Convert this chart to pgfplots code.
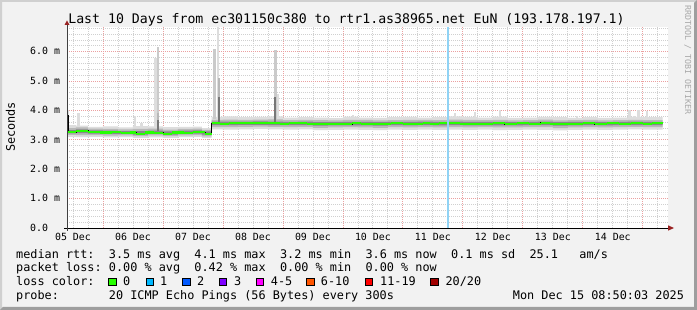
\documentclass[border=0pt]{standalone}
\usepackage{pgfplots}
\pgfplotsset{compat=1.18}
\usepackage{pgfplotstable}
\usepgfplotslibrary{fillbetween}
\usepackage{fontspec}
\setmainfont{DejaVu Sans Mono}
\definecolor{bg}{HTML}{F2F2F2}
\definecolor{shadea}{HTML}{D0D0D0}
\definecolor{shadeb}{HTML}{9E9E9E}
\definecolor{mgrid}{HTML}{EBA0A0}
\definecolor{mingrid}{HTML}{D0D0D0}
\definecolor{arrowc}{HTML}{992222}
\definecolor{smokeA}{HTML}{DDDDDD}
\definecolor{smokeA2}{HTML}{CACACA}
\definecolor{smokeB}{HTML}{B8B8B8}
\definecolor{smokeC}{HTML}{888888}
\definecolor{smokeD}{HTML}{777777}
\definecolor{medgreen}{HTML}{26FF00}
\definecolor{lossbg}{HTML}{90D3F5}
\definecolor{wm}{HTML}{A8A8A8}
\definecolor{lcA}{HTML}{26FF00}
\definecolor{lcB}{HTML}{00B8FF}
\definecolor{lcC}{HTML}{0059FF}
\definecolor{lcD}{HTML}{7E00FF}
\definecolor{lcE}{HTML}{FF00FF}
\definecolor{lcF}{HTML}{FF5500}
\definecolor{lcG}{HTML}{FF0000}
\definecolor{lcH}{HTML}{A10000}
\newcommand\lgfont{\fontsize{11.84}{13}\selectfont}
\newcommand\axfont{\fontsize{9.9}{11}\selectfont}
\newcommand\lgt[3]{\node[anchor=base west, inner sep=0pt, font=\lgfont] at ({16+7.13*#1},#2) {#3};}

\pgfplotstableread{
x l1 l2 l3 h3 h2 h1
0.40 3.10 3.17 3.22 3.33 3.40 3.50
0.55 3.09 3.16 3.23 3.36 3.42 3.48
0.75 3.10 3.16 3.21 3.32 3.38 3.44
1.00 3.08 3.14 3.20 3.31 3.37 3.46
1.25 3.09 3.15 3.20 3.30 3.36 3.42
1.50 3.07 3.13 3.18 3.30 3.37 3.47
1.75 3.08 3.15 3.20 3.31 3.38 3.46
2.00 3.07 3.13 3.18 3.29 3.35 3.43
2.25 3.09 3.15 3.21 3.31 3.37 3.44
2.50 3.10 3.16 3.21 3.32 3.38 3.45
2.65 3.07 3.12 3.18 3.29 3.34 3.40
2.81 3.36 3.43 3.50 3.62 3.68 3.78
3.00 3.35 3.43 3.50 3.62 3.69 3.80
3.25 3.36 3.44 3.51 3.62 3.68 3.77
3.50 3.37 3.45 3.51 3.63 3.69 3.78
3.75 3.36 3.44 3.50 3.62 3.70 3.80
4.00 3.35 3.43 3.50 3.61 3.67 3.76
4.25 3.36 3.44 3.50 3.62 3.68 3.77
4.50 3.33 3.41 3.48 3.60 3.67 3.76
4.75 3.34 3.42 3.49 3.60 3.66 3.74
5.00 3.35 3.43 3.49 3.61 3.68 3.79
5.25 3.34 3.42 3.49 3.61 3.68 3.76
5.50 3.33 3.41 3.48 3.60 3.66 3.75
5.75 3.35 3.43 3.50 3.61 3.67 3.77
6.00 3.34 3.42 3.49 3.61 3.68 3.78
6.25 3.35 3.43 3.50 3.62 3.68 3.76
6.50 3.34 3.42 3.49 3.61 3.67 3.77
6.75 3.35 3.43 3.50 3.62 3.69 3.80
7.00 3.34 3.42 3.49 3.61 3.68 3.78
7.25 3.35 3.43 3.49 3.61 3.67 3.76
7.50 3.33 3.42 3.49 3.61 3.68 3.79
7.75 3.34 3.42 3.49 3.60 3.66 3.75
8.00 3.35 3.43 3.50 3.61 3.67 3.76
8.25 3.34 3.43 3.50 3.62 3.69 3.78
8.50 3.32 3.40 3.48 3.60 3.66 3.77
8.75 3.34 3.42 3.49 3.61 3.67 3.75
9.00 3.35 3.43 3.50 3.61 3.68 3.77
9.25 3.34 3.42 3.49 3.60 3.66 3.75
9.50 3.35 3.43 3.50 3.61 3.67 3.76
9.75 3.36 3.44 3.50 3.62 3.68 3.78
10.00 3.35 3.43 3.50 3.61 3.67 3.77
10.33 3.35 3.43 3.50 3.61 3.67 3.77
}\smoke

\pgfplotstableread{
x y
0.40 3.84
0.42 3.27
0.55 3.31
0.75 3.27
0.95 3.25
1.15 3.26
1.30 3.22
1.45 3.25
1.55 3.21
1.70 3.25
1.85 3.24
2.00 3.21
2.15 3.25
2.35 3.24
2.50 3.26
2.62 3.26
2.70 3.21
2.81 3.57
2.95 3.55
3.10 3.56
3.30 3.57
3.50 3.56
3.65 3.58
3.80 3.56
3.95 3.55
4.10 3.57
4.25 3.56
4.40 3.54
4.55 3.53
4.75 3.55
4.95 3.54
5.15 3.56
5.30 3.55
5.45 3.53
5.60 3.55
5.80 3.56
6.00 3.55
6.20 3.55
6.33 3.57
6.45 3.55
6.60 3.56
6.725 3.57
6.742 3.74
6.76 3.56
6.95 3.55
7.10 3.54
7.30 3.55
7.50 3.56
7.70 3.54
7.90 3.56
8.10 3.55
8.30 3.58
8.45 3.55
8.60 3.53
8.80 3.55
9.00 3.56
9.20 3.54
9.40 3.56
9.60 3.55
9.80 3.56
10.00 3.55
10.15 3.57
10.33 3.57
}\median

\begin{document}%
\pagecolor{bg}%
\begin{tikzpicture}[x=1pt,y=1pt]
\fill[shadea] (0,0) -- (0,310) -- (697,310) -- (695,308) -- (2,308) -- (2,2) -- cycle;
\fill[shadeb] (0,0) -- (697,0) -- (697,310) -- (694,307) -- (694,3) -- (3,3) -- cycle;

\begin{axis}[
  at={(67pt,82pt)}, anchor=south west, scale only axis,
  width=601pt, height=201pt,
  xmin=0.4, xmax=10.42, ymin=0, ymax=6.84,
  axis background/.style={fill=white},
  axis line style={draw=none},
  major tick length=0pt, minor tick length=0pt,
  xtick={0.5,1.5,2.5,3.5,4.5,5.5,6.5,7.5,8.5,9.5},
  xticklabels={05 Dec,06 Dec,07 Dec,08 Dec,09 Dec,10 Dec,11 Dec,12 Dec,13 Dec,14 Dec},
  xticklabel style={font=\axfont, anchor=base, inner sep=0pt, yshift=-13pt},
  ytick={0,1,2,3,4,5,6},
  yticklabels={0.0,1.0 m,2.0 m,3.0 m,4.0 m,5.0 m,6.0 m},
  yticklabel style={font=\axfont, anchor=base west, inner sep=0pt, xshift=-37pt, yshift=-3.3pt},
  ymajorgrids,
  major grid style={mgrid, dash pattern=on 1pt off 1pt, line width=0.8pt},
  minor ytick={0.2,0.4,0.6,0.8,1.2,1.4,1.6,1.8,2.2,2.4,2.6,2.8,3.2,3.4,3.6,3.8,4.2,4.4,4.6,4.8,5.2,5.4,5.6,5.8,6.2,6.4,6.6,6.8},
  minor xtick={0.5,0.75,1.25,1.5,1.75,2.25,2.5,2.75,3.25,3.5,3.75,4.25,4.5,4.75,5.25,5.5,5.75,6.25,6.5,6.75,7.25,7.5,7.75,8.25,8.5,8.75,9.25,9.5,9.75,10.25},
  xminorgrids, yminorgrids,
  minor grid style={mingrid, dash pattern=on 1pt off 1pt, line width=0.8pt},
  extra x ticks={1,2,3,4,5,6,7,8,9,10},
  extra x tick labels={},
  extra x tick style={grid=major},
  clip=true,
]
\addplot[name path=L1, draw=none, const plot] table[x=x,y=l1]{\smoke};
\addplot[name path=L2, draw=none, const plot] table[x=x,y=l2]{\smoke};
\addplot[name path=L3, draw=none, const plot] table[x=x,y=l3]{\smoke};
\addplot[name path=H3, draw=none, const plot] table[x=x,y=h3]{\smoke};
\addplot[name path=H2, draw=none, const plot] table[x=x,y=h2]{\smoke};
\addplot[name path=H1, draw=none, const plot] table[x=x,y=h1]{\smoke};
\addplot[smokeA] fill between[of=H1 and L1];
\addplot[smokeB] fill between[of=H2 and L2];
\addplot[smokeC] fill between[of=H3 and L3];

% light spikes
\addplot[draw=smokeA, line width=2.5pt, line cap=butt, unbounded coords=jump] coordinates {
 (0.41,3.4) (0.41,4.0) (0.41,nan)
 (0.59,3.45) (0.59,3.90) (0.59,nan)
 (1.53,3.45) (1.53,3.80) (1.53,nan)
 (1.64,3.40) (1.64,3.58) (1.64,nan)
 (1.875,3.45) (1.875,5.77) (1.875,nan)
 (2.915,3.7) (2.915,6.83) (2.915,nan)
 (3.92,3.7) (3.92,4.55) (3.92,nan)
 (5.17,3.7) (5.17,3.84) (5.17,nan)
 (6.87,3.7) (6.87,3.92) (6.87,nan)
 (7.20,3.7) (7.20,3.96) (7.20,nan)
 (7.62,3.7) (7.62,4.01) (7.62,nan)
 (8.90,3.7) (8.90,3.80) (8.90,nan)
 (9.78,3.7) (9.78,4.00) (9.78,nan)
 (9.86,3.7) (9.86,3.80) (9.86,nan)
 (9.93,3.7) (9.93,4.02) (9.93,nan)
 (10.07,3.7) (10.07,3.98)
};
\addplot[draw=smokeA2, line width=2.5pt, line cap=butt, unbounded coords=jump] coordinates {
 (1.92,3.45) (1.92,6.17) (1.92,nan)
 (2.855,3.7) (2.855,6.08) (2.855,nan)
 (3.875,3.7) (3.875,6.05)
};
\addplot[draw=smokeB, line width=2.5pt, line cap=butt, unbounded coords=jump] coordinates {
 (2.93,3.6) (2.93,5.1) (2.93,nan)
 (1.92,3.3) (1.92,3.9)
};
\addplot[draw=smokeD, line width=2pt, line cap=butt, unbounded coords=jump] coordinates {
 (2.93,3.6) (2.93,4.45) (2.93,nan)
 (3.875,3.6) (3.875,4.45) (3.875,nan)
 (1.92,3.3) (1.92,3.67)
};

% median
\addplot[black, line width=0.8pt, const plot] table[x=x,y=y]{\median};
\addplot[medgreen, line width=2.2pt, jump mark left] table[x=x,y=y]{\median};

% loss background
\addplot[lossbg, line width=2pt, line cap=butt] coordinates {(6.748,0) (6.748,6.84)};
\end{axis}

% axes
\draw[black, line width=0.8pt] (64,82) -- (668,82);
\fill[arrowc] (668,79.3) -- (674,82) -- (668,84.7) -- cycle;
\draw[black!75, line width=0.8pt] (67,79) -- (67,285);
\fill[arrowc] (64.5,285) -- (67,289.5) -- (69.5,285) -- cycle;

% title and labels
\node[anchor=base, inner sep=0pt, font=\fontsize{13.2}{15}\selectfont] at (346.5,286) {Last 10 Days from ec301150c380 to rtr1.as38965.net EuN (193.178.197.1)};
\node[anchor=base, rotate=90, inner sep=0pt, font=\lgfont] at (15,183) {Seconds};
\node[anchor=base, rotate=-90, inner sep=0pt, font=\fontsize{8.3}{9}\selectfont, text=wm] at (685,250) {RRDTOOL / TOBI OETIKER};

% legend
\lgt{0}{51.8}{median rtt:}
\lgt{13}{51.8}{3.5 ms avg}
\lgt{25}{51.8}{4.1 ms max}
\lgt{37}{51.8}{3.2 ms min}
\lgt{49}{51.8}{3.6 ms now}
\lgt{61}{51.8}{0.1 ms sd}
\lgt{72}{51.8}{25.1}
\lgt{79}{51.8}{am/s}

\lgt{0}{38.1}{packet loss:}
\lgt{13}{38.1}{0.00 \% avg}
\lgt{25}{38.1}{0.42 \% max}
\lgt{37}{38.1}{0.00 \% min}
\lgt{49}{38.1}{0.00 \% now}

\lgt{0}{24.4}{loss color:}
\filldraw[fill=lcA, draw=black, line width=0.8pt] (108.7,24.2) rectangle ++(7.2,7.2);
\filldraw[fill=lcB, draw=black, line width=0.8pt] (146,24.2) rectangle ++(7.2,7.2);
\filldraw[fill=lcC, draw=black, line width=0.8pt] (182.7,24.2) rectangle ++(7.2,7.2);
\filldraw[fill=lcD, draw=black, line width=0.8pt] (219.3,24.2) rectangle ++(7.2,7.2);
\filldraw[fill=lcE, draw=black, line width=0.8pt] (256,24.2) rectangle ++(7.2,7.2);
\filldraw[fill=lcF, draw=black, line width=0.8pt] (306.7,24.2) rectangle ++(7.2,7.2);
\filldraw[fill=lcG, draw=black, line width=0.8pt] (365.3,24.2) rectangle ++(7.2,7.2);
\filldraw[fill=lcH, draw=black, line width=0.8pt] (430.7,24.2) rectangle ++(7.2,7.2);
\node[anchor=base west, inner sep=0pt, font=\lgfont] at (123,24.4) {0};
\node[anchor=base west, inner sep=0pt, font=\lgfont] at (160,24.4) {1};
\node[anchor=base west, inner sep=0pt, font=\lgfont] at (197,24.4) {2};
\node[anchor=base west, inner sep=0pt, font=\lgfont] at (234,24.4) {3};
\node[anchor=base west, inner sep=0pt, font=\lgfont] at (270.7,24.4) {4-5};
\node[anchor=base west, inner sep=0pt, font=\lgfont] at (320.7,24.4) {6-10};
\node[anchor=base west, inner sep=0pt, font=\lgfont] at (380,24.4) {11-19};
\node[anchor=base west, inner sep=0pt, font=\lgfont] at (445.3,24.4) {20/20};

\lgt{0}{10.7}{probe:}
\lgt{13}{10.7}{20 ICMP Echo Pings (56 Bytes) every 300s}
\node[anchor=base west, inner sep=0pt, font=\lgfont] at (512.7,10.7) {Mon Dec 15 08:50:03 2025};
\pgfresetboundingbox
\useasboundingbox (0,0) rectangle (697,310);
\end{tikzpicture}%
\end{document}
